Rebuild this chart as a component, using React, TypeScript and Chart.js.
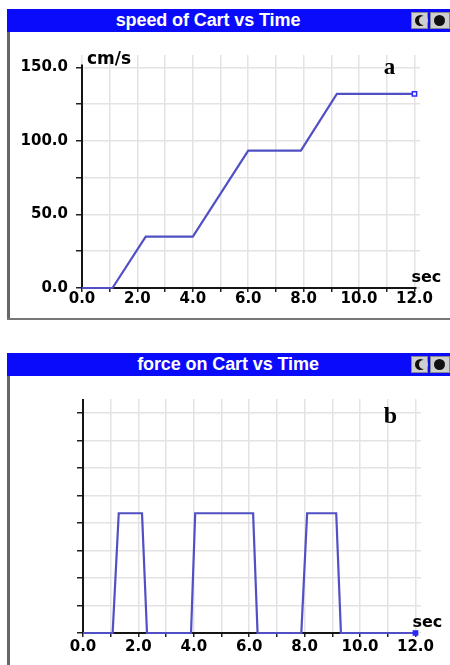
import React, { useEffect, useRef } from "react";
import { Chart, registerables } from "chart.js";

Chart.register(...registerables);

// ---- data ----
const speedTimes = [0, 1.1, 2.3, 4.0, 6.0, 7.9, 9.2, 12.0];
const speedValues = [0, 0, 35, 35, 93.5, 93.5, 132, 132];

const forceTimes = [0, 1.07, 1.29, 2.13, 2.31, 3.9, 4.05, 6.14, 6.3, 7.88, 8.09, 9.14, 9.31, 12.0];
const forceValues = [0, 0, 4.35, 4.35, 0, 0, 4.35, 4.35, 0, 0, 4.35, 4.35, 0, 0];

const timeTicks = [0, 1, 2, 3, 4, 5, 6, 7, 8, 9, 10, 11, 12];
const speedTicks = [0, 25, 50, 75, 100, 125, 150];
const forceTicks = [0, 1, 2, 3, 4, 5, 6, 7, 8];

const speedTitle = "speed of Cart vs Time";
const forceTitle = "force on Cart vs Time";

const LINE = "#5050c4";
const GRID = "#e3e3e3";
const TICKFONT = { family: "'DejaVu Sans', sans-serif", weight: "bold" as const, size: 15 };

type Extra = {
  yAxisTop: number;
  yLabel?: string;
  letter: string;
  letterX: number;
  letterY: number;
  letterSize: number;
};

function extrasPlugin(cfg: Extra) {
  return {
    id: "extras",
    beforeDatasetsDraw(chart: any) {
      const { ctx } = chart;
      const x = chart.scales.x;
      const y = chart.scales.y;
      const x0 = x.getPixelForValue(0);
      const y0 = y.getPixelForValue(0);
      ctx.save();
      ctx.strokeStyle = "#151515";
      ctx.lineWidth = 2;
      ctx.beginPath();
      ctx.moveTo(x0, y.getPixelForValue(cfg.yAxisTop));
      ctx.lineTo(x0, y0);
      ctx.lineTo(x.getPixelForValue(12) + 2, y0);
      ctx.stroke();
      ctx.restore();
    },
    afterDraw(chart: any) {
      const { ctx } = chart;
      const x = chart.scales.x;
      const y = chart.scales.y;
      const x0 = x.getPixelForValue(0);
      const y0 = y.getPixelForValue(0);
      ctx.save();
      ctx.fillStyle = "#000";
      ctx.textBaseline = "alphabetic";
      ctx.font = "bold 17px 'DejaVu Sans', sans-serif";
      if (cfg.yLabel) {
        ctx.textAlign = "left";
        ctx.fillText(cfg.yLabel, x0 + 5, y.getPixelForValue(150) - 3);
      }
      ctx.font = "bold 16px 'DejaVu Sans', sans-serif";
      ctx.textAlign = "left";
      ctx.fillText("sec", x.getPixelForValue(12) - 3, y0 - 6);
      ctx.font = `bold ${cfg.letterSize}px 'Liberation Serif', serif`;
      ctx.textAlign = "center";
      ctx.fillText(cfg.letter, x.getPixelForValue(cfg.letterX), y.getPixelForValue(cfg.letterY));
      ctx.restore();
    },
  };
}

function LineChart(props: {
  times: number[];
  values: number[];
  yTicks: number[];
  yMax: number;
  yLabelEvery: number | null;
  width: number;
  height: number;
  left: number;
  top: number;
  yWidth: number;
  padTop: number;
  padRight: number;
  xHeight: number;
  xPad: number;
  endFill: string;
  extra: Extra;
}) {
  const ref = useRef<HTMLCanvasElement | null>(null);
  useEffect(() => {
    if (!ref.current) return;
    const pts = props.times.map((t, i) => ({ x: t, y: props.values[i] }));
    const radii = pts.map((_, i) => (i === pts.length - 1 ? 3 : 0));
    const chart = new Chart(ref.current, {
      type: "line",
      data: {
        datasets: [
          {
            data: pts,
            borderColor: LINE,
            borderWidth: 2.2,
            tension: 0,
            pointStyle: "rect",
            pointRadius: radii,
            pointBorderColor: "#2a2aff",
            pointBackgroundColor: props.endFill,
            pointBorderWidth: 1.5,
            clip: false as any,
          },
        ],
      },
      options: {
        responsive: false,
        animation: false,
        events: [],
        layout: { padding: { top: props.padTop, right: props.padRight, left: 0, bottom: 0 } },
        plugins: {
          legend: { display: false },
          tooltip: { enabled: false },
          title: { display: false },
        },
        scales: {
          x: {
            type: "linear",
            min: 0,
            max: 12.2,
            afterBuildTicks: (s: any) => {
              s.ticks = timeTicks.map((v) => ({ value: v }));
            },
            afterFit: (s: any) => {
              s.height = props.xHeight;
              s.paddingLeft = 0;
              s.paddingRight = 0;
            },
            border: { display: false },
            grid: {
              color: GRID,
              lineWidth: 1.5,
              tickColor: "#222",
              tickLength: 4,
              tickWidth: 1.5,
            },
            ticks: {
              autoSkip: false,
              maxRotation: 0,
              padding: props.xPad,
              color: "#000",
              font: TICKFONT,
              callback: (v: any) => (Number(v) % 2 === 0 ? Number(v).toFixed(1) : ""),
            },
          },
          y: {
            type: "linear",
            min: 0,
            max: props.yMax,
            afterBuildTicks: (s: any) => {
              s.ticks = props.yTicks.map((v) => ({ value: v }));
            },
            afterFit: (s: any) => {
              s.width = props.yWidth;
              s.paddingTop = 0;
              s.paddingBottom = 0;
            },
            border: { display: false },
            grid: {
              color: GRID,
              lineWidth: 1.5,
              tickColor: "#222",
              tickLength: 6,
              tickWidth: 1.5,
            },
            ticks: {
              autoSkip: false,
              padding: 8,
              color: "#000",
              font: TICKFONT,
              callback: (v: any) =>
                props.yLabelEvery !== null && Number(v) % props.yLabelEvery === 0
                  ? Number(v).toFixed(1)
                  : "",
            },
          },
        },
      },
      plugins: [extrasPlugin(props.extra)],
    } as any);
    return () => chart.destroy();
  }, []);
  return (
    <canvas
      ref={ref}
      width={props.width}
      height={props.height}
      style={{ position: "absolute", left: props.left, top: props.top, width: props.width, height: props.height }}
    />
  );
}

function TitleBar(props: { top: number; text: string; center: number }) {
  return (
    <div
      style={{
        position: "absolute",
        left: 7,
        top: props.top,
        width: 443,
        height: 23,
        background: "#0b0bfb",
      }}
    >
      <span
        style={{
          position: "absolute",
          left: props.center - 7,
          top: 1,
          transform: "translateX(-50%)",
          whiteSpace: "nowrap",
          color: "#fff",
          fontFamily: "'Liberation Sans', Arial, sans-serif",
          fontWeight: "bold",
          fontSize: 18,
          letterSpacing: -0.1,
          lineHeight: "21px",
        }}
      >
        {props.text}
      </span>
      <div
        style={{
          position: "absolute",
          left: 404,
          top: 3,
          width: 17,
          height: 17,
          background: "#cfcfcf",
          border: "1px solid #888",
          boxSizing: "border-box",
        }}
      >
        <div
          style={{
            position: "absolute",
            left: 3,
            top: 2,
            width: 11,
            height: 11,
            borderRadius: "50%",
            background: "#111",
          }}
        />
        <div
          style={{
            position: "absolute",
            left: 7,
            top: 3,
            width: 9,
            height: 9,
            borderRadius: "50%",
            background: "#cfcfcf",
          }}
        />
      </div>
      <div
        style={{
          position: "absolute",
          left: 423,
          top: 3,
          width: 20,
          height: 17,
          background: "#cfcfcf",
          border: "1px solid #888",
          boxSizing: "border-box",
        }}
      >
        <div
          style={{
            position: "absolute",
            left: 3,
            top: 2,
            width: 11,
            height: 11,
            borderRadius: "50%",
            background: "#111",
          }}
        />
      </div>
    </div>
  );
}

export default function App() {
  return (
    <div
      style={{
        position: "absolute",
        left: 0,
        top: 0,
        width: 450,
        height: 665,
        background: "#fff",
        overflow: "hidden",
      }}
    >
      {/* panel a */}
      <TitleBar top={9} text={speedTitle} center={208} />
      <div style={{ position: "absolute", left: 7, top: 32, width: 3, height: 288, background: "#666" }} />
      <div style={{ position: "absolute", left: 7, top: 318, width: 443, height: 2, background: "#777" }} />
      <LineChart
        times={speedTimes}
        values={speedValues}
        yTicks={speedTicks}
        yMax={158.5}
        yLabelEvery={50}
        width={439}
        height={286}
        left={11}
        top={32}
        yWidth={71}
        padTop={23}
        padRight={30}
        xHeight={30}
        xPad={-2}
        endFill="#ffffff"
        extra={{ yAxisTop: 152, yLabel: "cm/s", letter: "a", letterX: 11.1, letterY: 150 - 4.2, letterSize: 23 }}
      />

      {/* panel b */}
      <TitleBar top={353} text={forceTitle} center={228} />
      <div style={{ position: "absolute", left: 7, top: 376, width: 3, height: 289, background: "#666" }} />
      <LineChart
        times={forceTimes}
        values={forceValues}
        yTicks={forceTicks}
        yMax={8.5}
        yLabelEvery={null}
        width={439}
        height={288}
        left={11}
        top={377}
        yWidth={72}
        padTop={22}
        padRight={29}
        xHeight={32}
        xPad={1}
        endFill="#2a2aff"
        extra={{ yAxisTop: 8.5, letter: "b", letterX: 11.1, letterY: 7.64, letterSize: 24 }}
      />
    </div>
  );
}
